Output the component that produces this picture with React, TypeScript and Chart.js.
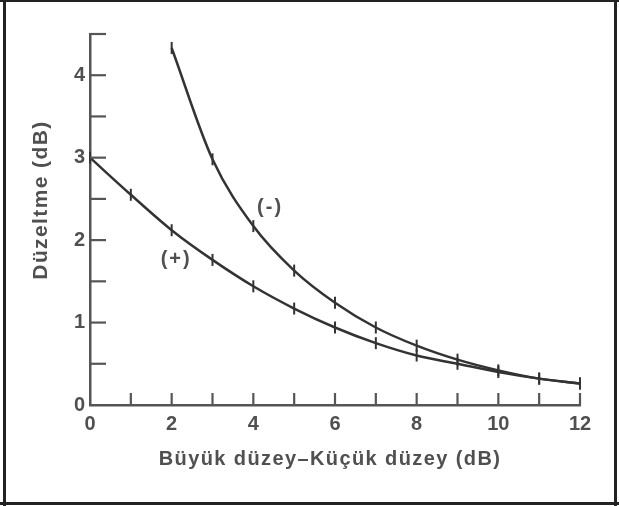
import React, { useEffect, useRef } from "react";
import { Chart, registerables } from "chart.js";

Chart.register(...registerables);

// ---- data ----
const xValues = [0, 1, 2, 3, 4, 5, 6, 7, 8, 9, 10, 11, 12];
const plusValues = [3.0, 2.55, 2.12, 1.76, 1.44, 1.17, 0.94, 0.75, 0.6, 0.5, 0.4, 0.32, 0.26];
const minusValues = [null, null, 4.33, 2.98, 2.17, 1.63, 1.24, 0.94, 0.72, 0.55, 0.42, 0.32, 0.26];
const seriesNames = ["(+)", "(-)"];
const xTickLabels = ["0", "2", "4", "6", "8", "10", "12"];
const yTickLabels = ["0", "1", "2", "3", "4"];
const xTitle = "Büyük düzey–Küçük düzey (dB)";
const yTitle = "Düzeltme (dB)";

// curve label anchor points (data units)
const plusLabelAt = { x: 2.11, y: 1.76 };
const minusLabelAt = { x: 4.41, y: 2.4 };

const INK = "#333";
const TEXT = "#505050";
const FONT = '"Liberation Sans", Arial, sans-serif';

const toPoints = (vals: (number | null)[]) =>
  xValues
    .map((x, i) => ({ x, y: vals[i] }))
    .filter((p) => p.y !== null) as { x: number; y: number }[];

const decorPlugin = {
  id: "decor",
  afterDraw(chart: any) {
    const { ctx, chartArea } = chart;
    const xs = chart.scales.x;
    const ys = chart.scales.y;
    ctx.save();
    // inward tick marks
    ctx.strokeStyle = "#555";
    ctx.lineWidth = 2.2;
    ctx.lineCap = "butt";
    ys.ticks.forEach((t: any) => {
      if (t.value === 0) return;
      const py = ys.getPixelForValue(t.value);
      ctx.beginPath();
      ctx.moveTo(chartArea.left, py);
      ctx.lineTo(chartArea.left + 16, py);
      ctx.stroke();
    });
    xs.ticks.forEach((t: any) => {
      if (t.value === 0) return;
      const px = xs.getPixelForValue(t.value);
      ctx.beginPath();
      ctx.moveTo(px, chartArea.bottom);
      ctx.lineTo(px, chartArea.bottom - 12);
      ctx.stroke();
    });

    // curve labels
    ctx.fillStyle = TEXT;
    ctx.font = `bold 20px ${FONT}`;
    ctx.textAlign = "center";
    ctx.textBaseline = "middle";
    (ctx as any).letterSpacing = "2px";
    ctx.fillText(seriesNames[0], xs.getPixelForValue(plusLabelAt.x), ys.getPixelForValue(plusLabelAt.y));
    ctx.fillText(seriesNames[1], xs.getPixelForValue(minusLabelAt.x), ys.getPixelForValue(minusLabelAt.y));

    // axis titles
    (ctx as any).letterSpacing = "1.4px";
    ctx.font = `bold 20px ${FONT}`;
    ctx.fillText(xTitle, 330, 459);
    ctx.save();
    ctx.translate(41, 200);
    ctx.rotate(-Math.PI / 2);
    (ctx as any).letterSpacing = "1.4px";
    ctx.font = `bold 21px ${FONT}`;
    ctx.fillText(yTitle, 0, 0);
    ctx.restore();
    (ctx as any).letterSpacing = "0px";

    // outer frame
    ctx.strokeStyle = "#222";
    ctx.lineWidth = 3;
    ctx.beginPath();
    ctx.moveTo(4.5, 0);
    ctx.lineTo(4.5, 506);
    ctx.moveTo(615.5, 0);
    ctx.lineTo(615.5, 506);
    ctx.moveTo(0, 503.5);
    ctx.lineTo(619, 503.5);
    ctx.stroke();
    ctx.lineWidth = 2;
    ctx.beginPath();
    ctx.moveTo(0, 1);
    ctx.lineTo(619, 1);
    ctx.stroke();
    ctx.restore();
  },
};

export default function App() {
  const canvasRef = useRef<HTMLCanvasElement | null>(null);

  useEffect(() => {
    document.body.style.margin = "0";
    const canvas = canvasRef.current;
    if (!canvas) return;
    const lineDs = (label: string, vals: (number | null)[]) => ({
      label,
      data: toPoints(vals),
      borderColor: INK,
      borderWidth: 2.5,
      cubicInterpolationMode: "monotone" as const,
      pointStyle: "line" as const,
      pointRotation: 90,
      pointRadius: 6,
      pointBorderWidth: 2,
      pointBorderColor: INK,
      pointBackgroundColor: INK,
      clip: false as any,
    });
    const chart = new Chart(canvas, {
      type: "line",
      data: {
        datasets: [lineDs(seriesNames[0], plusValues), lineDs(seriesNames[1], minusValues)],
      },
      options: {
        animation: false,
        responsive: false,
        devicePixelRatio: 1,
        layout: { padding: { left: 66, right: 39, top: 34, bottom: 71 } },
        plugins: {
          legend: { display: false },
          tooltip: { enabled: false },
          title: { display: false },
        },
        scales: {
          x: {
            type: "linear",
            min: 0,
            max: 12,
            afterFit: (s: any) => {
              s.height = 30;
            },
            grid: { display: false, drawTicks: false, tickLength: 0 },
            border: { display: true, color: "#555", width: 2.5 },
            ticks: {
              stepSize: 1,
              autoSkip: false,
              maxRotation: 0,
              padding: 7,
              color: TEXT,
              font: { family: FONT, size: 20, weight: "bold" },
              callback: (v: any) => (xTickLabels.includes(String(v)) ? String(v) : ""),
            },
          },
          y: {
            type: "linear",
            min: 0,
            max: 4.5,
            afterFit: (s: any) => {
              s.width = 24;
            },
            grid: { display: false, drawTicks: false, tickLength: 0 },
            border: { display: true, color: "#555", width: 2.5 },
            ticks: {
              stepSize: 0.5,
              autoSkip: false,
              padding: 5,
              color: TEXT,
              font: { family: FONT, size: 20, weight: "bold" },
              callback: (v: any) => (yTickLabels.includes(String(v)) ? String(v) : ""),
            },
          },
        },
      },
      plugins: [decorPlugin],
    });
    return () => chart.destroy();
  }, []);

  return (
    <div style={{ width: 619, height: 506, background: "#fff" }}>
      <canvas ref={canvasRef} width={619} height={506} style={{ display: "block", filter: "blur(0.4px)" }} />
    </div>
  );
}
